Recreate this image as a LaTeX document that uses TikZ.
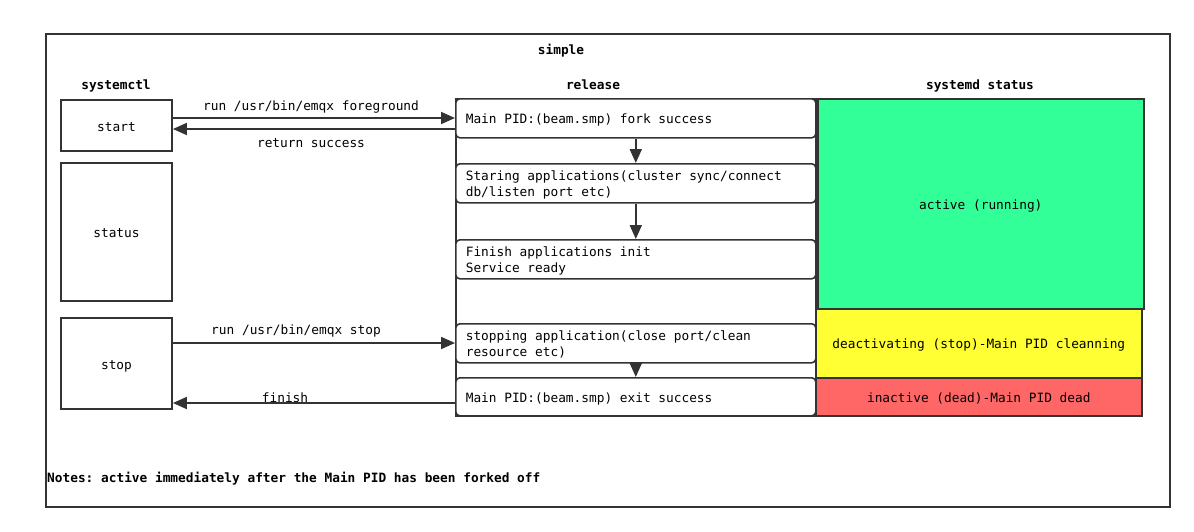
\documentclass[tikz,border=0pt]{standalone}
\usepackage{fontspec}
\newfontfamily\dmono{DejaVu Sans Mono}
\usetikzlibrary{arrows.meta}
\definecolor{ln}{HTML}{333333}
\definecolor{gr}{HTML}{33FF99}
\definecolor{ye}{HTML}{FFFF33}
\definecolor{rd}{HTML}{FF6666}
\begin{document}
\frenchspacing
\begin{tikzpicture}[x=1pt,y=-1pt,
  every node/.style={font=\dmono\frenchspacing\fontsize{12.8}{16}\selectfont, text=black},
  one/.style={text height=11pt, text depth=0pt},
  two/.style={text height=11pt, text depth=16pt},
  hd/.style={one, font=\dmono\frenchspacing\bfseries\fontsize{12.8}{16}\selectfont},
  sbox/.style={one, draw=ln, line width=1.8pt, fill=white, minimum width=111pt, inner sep=0pt},
  rbox/.style={draw=ln, line width=1.6pt, fill=white, rounded corners=4pt, minimum width=360pt, minimum height=39pt, text width=340pt, inner xsep=10pt, inner ysep=0pt, align=flush left, anchor=north west},
  stbox/.style={one, draw=ln, line width=1.6pt, inner sep=0pt, anchor=north west},
  arr/.style={draw=ln, line width=1.8pt, -{Triangle[length=14pt,width=12pt]}},
  lbl/.style={one, inner sep=0pt}
]
\fill[white] (0,0) rectangle (1194,531);
\useasboundingbox (0,0) rectangle (1194,531);
\node[draw=ln, line width=1.8pt, minimum width=1124pt, minimum height=473pt, anchor=north west, inner sep=0pt] (frame) at (45,33) {};
\node[hd] (title) at (561,49) {simple};
\node[hd] (h1) at (116,84) {systemctl};
\node[hd] (h2) at (593,84) {release};
\node[hd] (h3) at (980,84) {systemd status};
% systemctl boxes
\node[sbox, minimum height=51pt] (start) at (116.5,125.5) {start};
\node[sbox, minimum height=138pt] (status) at (116.5,232) {status};
\node[sbox, minimum height=91pt] (stop) at (116.5,363.5) {stop};
% release column
\node[draw=ln, line width=1.6pt, minimum width=360pt, minimum height=317pt, anchor=north west, inner sep=0pt] (relcol) at (455,98) {};
\node[rbox, one] (m1) at (455,98) {Main PID:(beam.smp) fork success};
\node[rbox, two] (m2) at (455,163) {Staring applications(cluster sync/connect\\db/listen port etc)};
\node[rbox, two] (m3) at (455,239) {Finish applications init\\Service ready};
\node[rbox, two] (m4) at (455,323) {stopping application(close port/clean\\resource etc)};
\node[rbox, one, minimum height=38pt] (m5) at (455,377) {Main PID:(beam.smp) exit success};
% systemd status
\node[stbox, fill=gr, minimum width=326pt, minimum height=210pt] (act) at (817,98) {active (running)};
\node[stbox, fill=ye, minimum width=326pt, minimum height=69pt] (deact) at (815,308) {deactivating (stop)-Main PID cleanning};
\node[stbox, fill=rd, minimum width=326pt, minimum height=38pt] (inact) at (815,377) {inactive (dead)-Main PID dead};
% arrows
\draw[arr] ([xshift=-2pt]start.east |- 0,118) -- (m1.west |- 0,118);
\draw[arr] (m1.west |- 0,129) -- (start.east |- 0,129);
\draw[arr] (m1.south) -- (m2.north);
\draw[arr] (m2.south) -- (m3.north);
\draw[arr] (m4.south) -- (m5.north);
\draw[arr] (stop.east |- 0,343) -- (m4.west |- 0,343);
\draw[arr] (m5.west |- 0,403) -- (stop.east |- 0,403);
% labels
\node[lbl] (l1) at (311,105) {run /usr/bin/emqx foreground};
\node[lbl] (l2) at (311,142) {return success};
\node[lbl] (l3) at (296,329) {run /usr/bin/emqx stop};
\node[lbl] (l4) at (285,397) {finish};
\node[hd, anchor=west, inner sep=0pt] (notes) at (47,477) {Notes: active immediately after the Main PID has been forked off};
\end{tikzpicture}
\end{document}
